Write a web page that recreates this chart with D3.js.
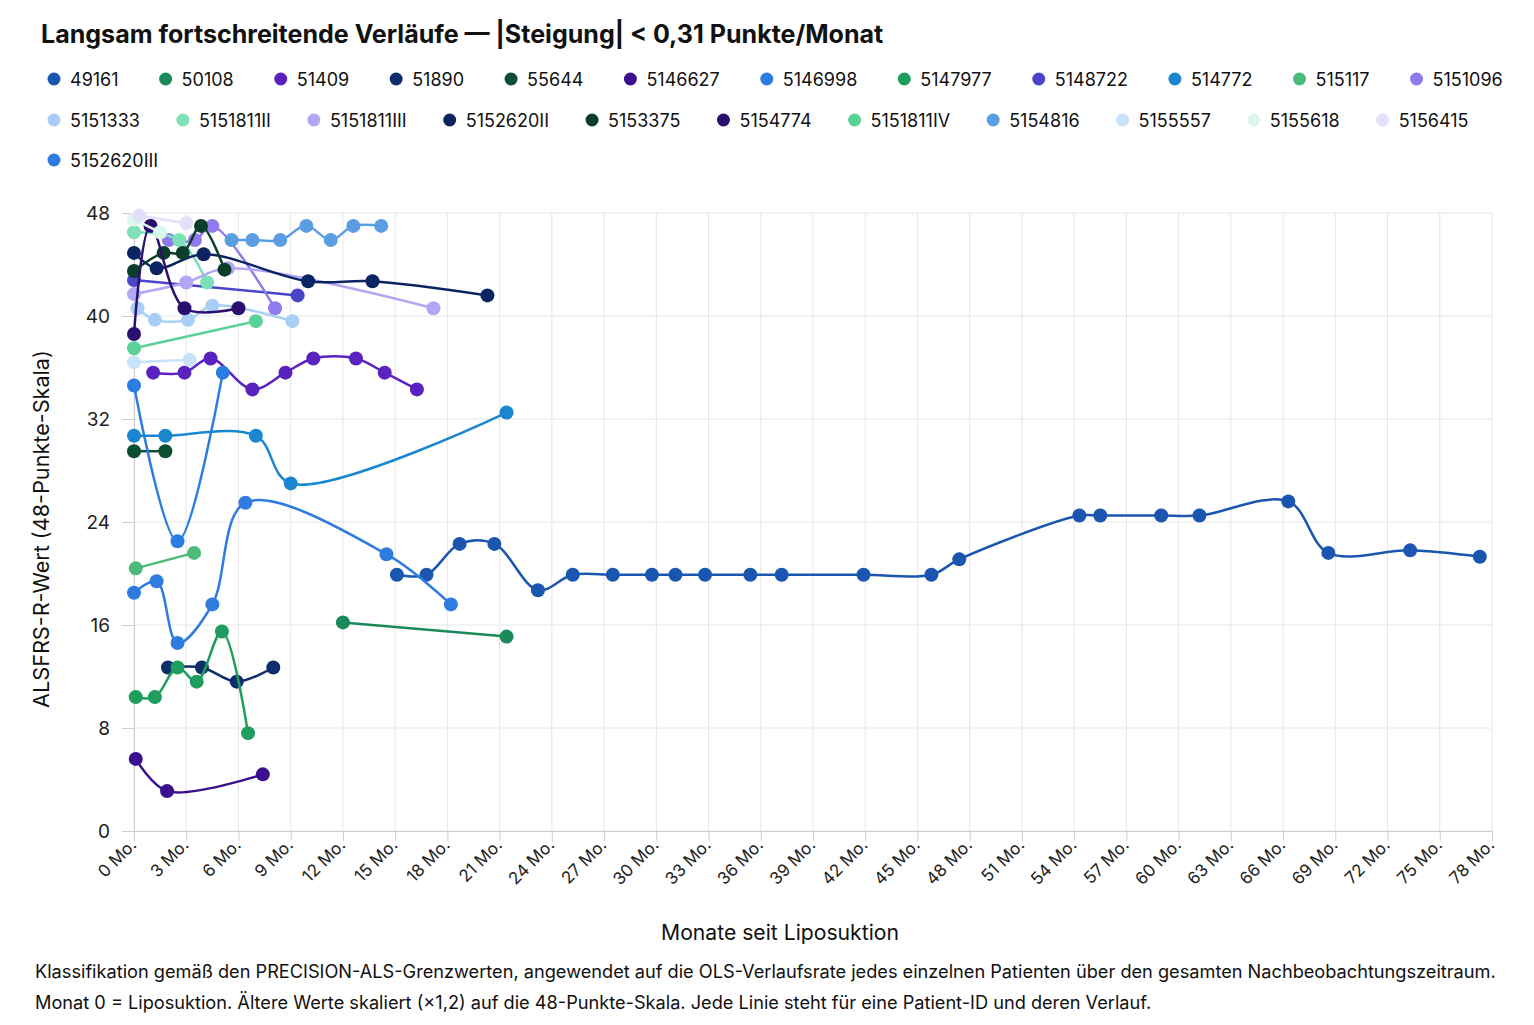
<!DOCTYPE html>
<html><head><meta charset="utf-8">
<script src="https://cdn.jsdelivr.net/npm/d3@7/dist/d3.min.js"></script>
<style>
body{margin:0;background:#fff;}
svg{font-family:Inter,"Noto Sans",sans-serif;}
</style></head>
<body><svg id="c" width="1534" height="1025"></svg>
<script>
const titleText = "Langsam fortschreitende Verläufe — |Steigung| < 0,31 Punkte/Monat";
const yAxisTitle = "ALSFRS-R-Wert (48-Punkte-Skala)";
const xAxisTitle = "Monate seit Liposuktion";
const footLines = [
  "Klassifikation gemäß den PRECISION-ALS-Grenzwerten, angewendet auf die OLS-Verlaufsrate jedes einzelnen Patienten über den gesamten Nachbeobachtungszeitraum.",
  "Monat 0 = Liposuktion. Ältere Werte skaliert (×1,2) auf die 48-Punkte-Skala. Jede Linie steht für eine Patient-ID und deren Verlauf."
];

const patientIds = ["49161","50108","51409","51890","55644","5146627","5146998","5147977","5148722","514772","515117","5151096",
  "5151333","5151811II","5151811III","5152620II","5153375","5154774","5151811IV","5154816","5155557","5155618","5156415",
  "5152620III"];
const patientColors = ["#1a56b0","#1a8a5a","#5b22c0","#0f2d6b","#0d4d32","#3b0f8f","#2a7de1","#1f9d5f","#4a45c8","#1a86d0","#4cba7a","#9179ee",
  "#a8cef5","#7ee0b8","#b3a6f5","#0a2463","#0a3d2a","#2a0f6e","#5bd19a","#5b9de3","#c8e2fa","#dcf7ee","#e4e0fb",
  "#2f7be0"];
const patientMonths = [
  [15.1,16.8,18.7,20.7,23.2,25.2,27.5,29.75,31.1,32.8,35.4,37.2,41.9,45.8,47.4,54.3,55.5,59.0,61.2,66.3,68.6,73.3,77.3],
  [12.0,21.4],
  [1.1,2.9,4.4,6.8,8.7,10.3,12.75,14.4,16.25],
  [1.95,3.9,5.9,8.0],
  [0,1.8],
  [0.1,1.9,7.4],
  [0,2.5,5.1],
  [0.1,1.2,2.5,3.6,5.05,6.55],
  [0,9.4],
  [0,1.8,7.0,9.0,21.4],
  [0.1,3.45],
  [0.95,2.0,3.5,4.5,8.1],
  [0.2,1.2,3.1,4.5,9.1],
  [0,2.6,4.2],
  [0,3.0,5.4,17.2],
  [0,1.3,4.0,10.0,13.7,20.3],
  [0,1.7,2.8,3.85,5.2],
  [0,0.95,2.9,6.0],
  [0,7.0],
  [5.6,6.8,8.4,9.9,11.3,12.6,14.2],
  [0,3.2],
  [0,1.5],
  [0.3,3.0],
  [0,1.3,2.5,4.5,6.4,14.5,18.2]
];
const patientScores = [
  [19.9,19.9,22.3,22.3,18.7,19.9,19.9,19.9,19.9,19.9,19.9,19.9,19.9,19.9,21.1,24.5,24.5,24.5,24.5,25.6,21.6,21.8,21.3],
  [16.2,15.1],
  [35.6,35.6,36.7,34.3,35.6,36.7,36.7,35.6,34.3],
  [12.7,12.7,11.6,12.7],
  [29.5,29.5],
  [5.6,3.1,4.4],
  [34.6,22.5,35.6],
  [10.4,10.4,12.7,11.6,15.5,7.6],
  [42.8,41.6],
  [30.7,30.7,30.7,27.0,32.5],
  [20.4,21.6],
  [47.0,45.9,45.9,47.0,40.6],
  [40.6,39.7,39.7,40.8,39.6],
  [46.5,45.9,42.6],
  [41.7,42.6,43.7,40.6],
  [44.9,43.7,44.8,42.7,42.7,41.6],
  [43.5,44.9,44.9,47.0,43.6],
  [38.6,47.0,40.6,40.6],
  [37.5,39.6],
  [45.9,45.9,45.9,47.0,45.9,47.0,47.0],
  [36.4,36.6],
  [47.5,46.5],
  [47.8,47.2],
  [18.5,19.4,14.6,17.6,25.5,21.5,17.6]
];
const yTickValues = [0,8,16,24,32,40,48];
const xTickMonths = [0,3,6,9,12,15,18,21,24,27,30,33,36,39,42,45,48,51,54,57,60,63,66,69,72,75,78];
const legendRows = [12,11,1];

const svg = d3.select("#c");
const plot = {left:134, right:1492, top:213, bottom:831};
const x = d3.scaleLinear().domain([0,78]).range([plot.left, plot.right]);
const y = d3.scaleLinear().domain([0,48]).range([plot.bottom, plot.top]);

function fitText(sel, size, target){
  sel.attr("font-size", size);
  const w = sel.node().getComputedTextLength();
  sel.attr("font-size", size*target/w);
}

// title
const t = svg.append("text").attr("x",41).attr("y",43).attr("font-weight",700).attr("fill","#111").text(titleText);
fitText(t, 24, 843);

// legend
let idx = 0;
const legendY = [79,120,160];
const legendGap = [47,43,47];
legendRows.forEach((n, r) => {
  let cx = 54;
  for (let k=0;k<n;k++,idx++){
    const g = svg.append("g");
    g.append("circle").attr("cx",cx).attr("cy",legendY[r]).attr("r",6.5).attr("fill",patientColors[idx]);
    const tx = g.append("text").attr("x",cx+16).attr("y",legendY[r]+6.5).attr("font-size",18).attr("fill","#111").text(patientIds[idx]);
    const w = tx.node().getComputedTextLength();
    cx += 16 + w + legendGap[r];
  }
});

// grid
const grid = svg.append("g").attr("stroke","#e6e6e6").attr("stroke-width",1);
xTickMonths.forEach(m => grid.append("line").attr("x1",x(m)).attr("x2",x(m)).attr("y1",plot.top).attr("y2",plot.bottom));
yTickValues.forEach(v => grid.append("line").attr("x1",plot.left).attr("x2",plot.right).attr("y1",y(v)).attr("y2",y(v)));

// axes
const yAxis = svg.append("g").attr("transform",`translate(${plot.left},0)`)
  .call(d3.axisLeft(y).tickValues(yTickValues).tickSize(12).tickPadding(12));
yAxis.selectAll("text").attr("font-size",19).attr("fill","#222");
const xAxis = svg.append("g").attr("transform",`translate(0,${plot.bottom})`)
  .call(d3.axisBottom(x).tickValues(xTickMonths).tickSize(10).tickFormat(d => d + " Mo."));
xAxis.selectAll("text").attr("font-size",17).attr("fill","#222")
  .attr("text-anchor","end").attr("dy",null).attr("y",0)
  .attr("transform","translate(3,15) rotate(-45)");
[yAxis,xAxis].forEach(a => { a.selectAll("line").attr("stroke","#cfcfcf"); a.select(".domain").attr("stroke","#cfcfcf"); a.attr("font-family",null); });

// axis titles
const yt = svg.append("text").attr("transform","translate(49,529) rotate(-90)").attr("text-anchor","middle")
  .attr("fill","#111").text(yAxisTitle);
fitText(yt, 19, 358);
const xt = svg.append("text").attr("x",780).attr("y",940).attr("text-anchor","middle")
  .attr("fill","#111").text(xAxisTitle);
fitText(xt, 19, 238);

// footnote
const f1 = svg.append("text").attr("x",35).attr("y",978).attr("fill","#111").text(footLines[0]);
fitText(f1, 16, 1462);
const fs = +f1.attr("font-size");
svg.append("text").attr("x",35).attr("y",1009).attr("fill","#111").attr("font-size",fs).text(footLines[1]);

// series
const line = d3.line().x(d => x(d[0])).y(d => y(d[1])).curve(d3.curveCatmullRom.alpha(0.5));
const layer = svg.append("g");
patientIds.forEach((id, i) => {
  const pts = patientMonths[i].map((m, j) => [m, patientScores[i][j]]);
  const g = layer.append("g");
  g.append("path").attr("d", line(pts)).attr("fill","none").attr("stroke",patientColors[i]).attr("stroke-width",2.5);
  g.selectAll("circle").data(pts).join("circle").attr("cx",d=>x(d[0])).attr("cy",d=>y(d[1])).attr("r",7).attr("fill",patientColors[i]);
});
</script>
</body></html>
